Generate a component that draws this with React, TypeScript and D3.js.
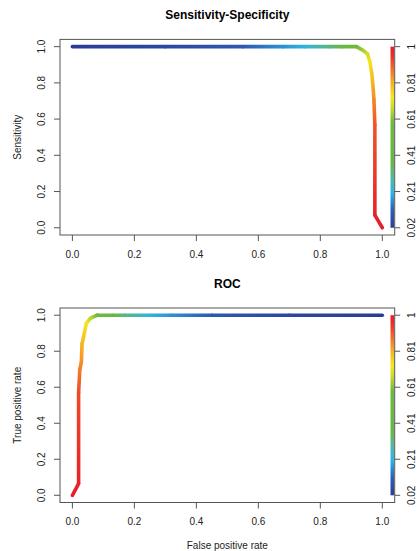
import React from 'react';
import * as d3 from 'd3';

const W = 417;
const H = 551;

const xTicks = [0, 0.2, 0.4, 0.6, 0.8, 1.0];
const yTicks = [0, 0.2, 0.4, 0.6, 0.8, 1.0];
const cutoffLabels = ['0.02', '0.21', '0.41', '0.61', '0.81', '1'];

// sensitivity vs specificity, coloured by cutoff
const ssSpec = [0.0, 0.3, 0.55, 0.68, 0.75, 0.83, 0.87, 0.917, 0.939, 0.952, 0.96, 0.966, 0.971, 0.973, 0.976, 0.976, 1.0];
const ssSens = [1.0, 1.0, 1.0, 1.0, 1.0, 1.0, 1.0, 1.0, 0.978, 0.96, 0.917, 0.853, 0.761, 0.706, 0.567, 0.07, 0.0];
const ssCut = [0.02, 0.05, 0.1, 0.17, 0.22, 0.32, 0.42, 0.58, 0.64, 0.68, 0.72, 0.77, 0.82, 0.85, 0.91, 0.99, 1.0];

// ROC
const rocFpr = [0.0, 0.02, 0.02, 0.024, 0.029, 0.031, 0.036, 0.045, 0.058, 0.08, 0.13, 0.17, 0.25, 0.32, 0.45, 0.7, 1.0];
const rocTpr = [0.0, 0.065, 0.57, 0.7, 0.74, 0.84, 0.88, 0.955, 0.983, 1.0, 1.0, 1.0, 1.0, 1.0, 1.0, 1.0, 1.0];
const rocCut = [1.0, 0.99, 0.92, 0.86, 0.84, 0.8, 0.77, 0.72, 0.66, 0.58, 0.42, 0.32, 0.22, 0.17, 0.1, 0.05, 0.02];

// colour bar palette (position 0 = lowest cutoff)
const paletteStops = [0, 0.1, 0.19, 0.27, 0.35, 0.58, 0.66, 0.72, 0.8, 0.88, 0.95, 1.0];
const paletteColors = ['#2a3d96', '#2f5fb5', '#2bb3e8', '#4fb9a8', '#66b748', '#6fb93e', '#c9d92c', '#f6e71c', '#f6b024', '#f26a27', '#ea3028', '#e61e2a'];

const cutMin = 0.02, cutMax = 1.0;
const pos = d3.scaleLinear().domain([cutMin, cutMax]).range([0, 1]);
const pal = d3.scaleLinear<string>().domain(paletteStops).range(paletteColors).interpolate(d3.interpolateRgb);
const colorOf = (c: number) => pal(pos(c));

const font = 'Liberation Sans, Arial, Helvetica, sans-serif';
const axisCol = '#555';
const textCol = '#222';

function Panel(props: any) {
  const { id, title, xs, ys, cuts, ylab, xlab, top, bottom } = props;
  const x = d3.scaleLinear().domain([-0.04, 1.04]).range([60, 394.7]);
  const y = d3.scaleLinear().domain([-0.04, 1.04]).range([bottom, top]);
  const left = x(-0.04), right = x(1.04);
  const cb = d3.scaleLinear().domain([0, 1]).range([y(0), y(1)]);

  const segs = d3.range(xs.length - 1).map(i => ({
    x1: x(xs[i]), y1: y(ys[i]), x2: x(xs[i + 1]), y2: y(ys[i + 1]),
    c1: colorOf(cuts[i]), c2: colorOf(cuts[i + 1]),
  }));

  return (
    <g>
      <defs>
        {segs.map((s, i) => (
          <linearGradient key={i} id={`${id}-g${i}`} gradientUnits="userSpaceOnUse"
            x1={s.x1} y1={s.y1} x2={s.x2 === s.x1 && s.y2 === s.y1 ? s.x2 + 1 : s.x2} y2={s.y2}>
            <stop offset="0" stopColor={s.c1} />
            <stop offset="1" stopColor={s.c2} />
          </linearGradient>
        ))}
        <linearGradient id={`${id}-bar`} gradientUnits="userSpaceOnUse" x1={0} y1={cb(0)} x2={0} y2={cb(1)}>
          {paletteStops.map((p, i) => (
            <stop key={i} offset={p} stopColor={paletteColors[i]} />
          ))}
        </linearGradient>
      </defs>

      <text x={(left + right) / 2} y={top - 20.4} textAnchor="middle" fontFamily={font}
        fontWeight="bold" fontSize={12} fill="#000">{title}</text>

      {segs.map((s, i) => (
        <line key={i} x1={s.x1} y1={s.y1} x2={s.x2} y2={s.y2}
          stroke={`url(#${id}-g${i})`} strokeWidth={3.6} strokeLinecap="round" />
      ))}

      <rect x={right - 4.2} y={cb(1)} width={3.6} height={cb(0) - cb(1)} fill={`url(#${id}-bar)`} />

      <rect x={left} y={top} width={right - left} height={bottom - top} fill="none" stroke={axisCol} strokeWidth={1} />

      {xTicks.map(t => (
        <g key={t}>
          <line x1={x(t)} x2={x(t)} y1={bottom} y2={bottom + 6} stroke={axisCol} />
          <text x={x(t)} y={bottom + 22.5} textAnchor="middle" fontFamily={font} fontSize={10} fill={textCol}>
            {t.toFixed(1)}
          </text>
        </g>
      ))}

      {yTicks.map(t => (
        <g key={t}>
          <line x1={left - 6} x2={left} y1={y(t)} y2={y(t)} stroke={axisCol} />
          <text transform={`translate(45,${y(t)}) rotate(-90)`} textAnchor="middle" fontFamily={font}
            fontSize={10} fill={textCol}>{t.toFixed(1)}</text>
        </g>
      ))}

      {cutoffLabels.map((lab, i) => {
        const py = cb(i / (cutoffLabels.length - 1));
        return (
          <g key={lab}>
            <line x1={right} x2={right + 5.5} y1={py} y2={py} stroke={axisCol} />
            <text transform={`translate(415,${py}) rotate(-90)`} textAnchor="middle" fontFamily={font}
              fontSize={10} fill={textCol}>{lab}</text>
          </g>
        );
      })}

      <text transform={`translate(20.5,${(top + bottom) / 2}) rotate(-90)`} textAnchor="middle"
        fontFamily={font} fontSize={10} fill={textCol}>{ylab}</text>

      {xlab && (
        <text x={(left + right) / 2} y={bottom + 46.5} textAnchor="middle" fontFamily={font}
          fontSize={10} fill={textCol}>{xlab}</text>
      )}
    </g>
  );
}

export default function App() {
  return (
    <svg width={W} height={H} style={{ position: 'absolute', left: 0, top: 0, background: '#fff' }}>
      <Panel id="ss" title="Sensitivity-Specificity" xs={ssSpec} ys={ssSens} cuts={ssCut}
        ylab="Sensitivity" top={39.4} bottom={235} />
      <Panel id="roc" title="ROC" xs={rocFpr} ys={rocTpr} cuts={rocCut}
        ylab="True positive rate" xlab="False positive rate" top={308} bottom={502.5} />
    </svg>
  );
}
